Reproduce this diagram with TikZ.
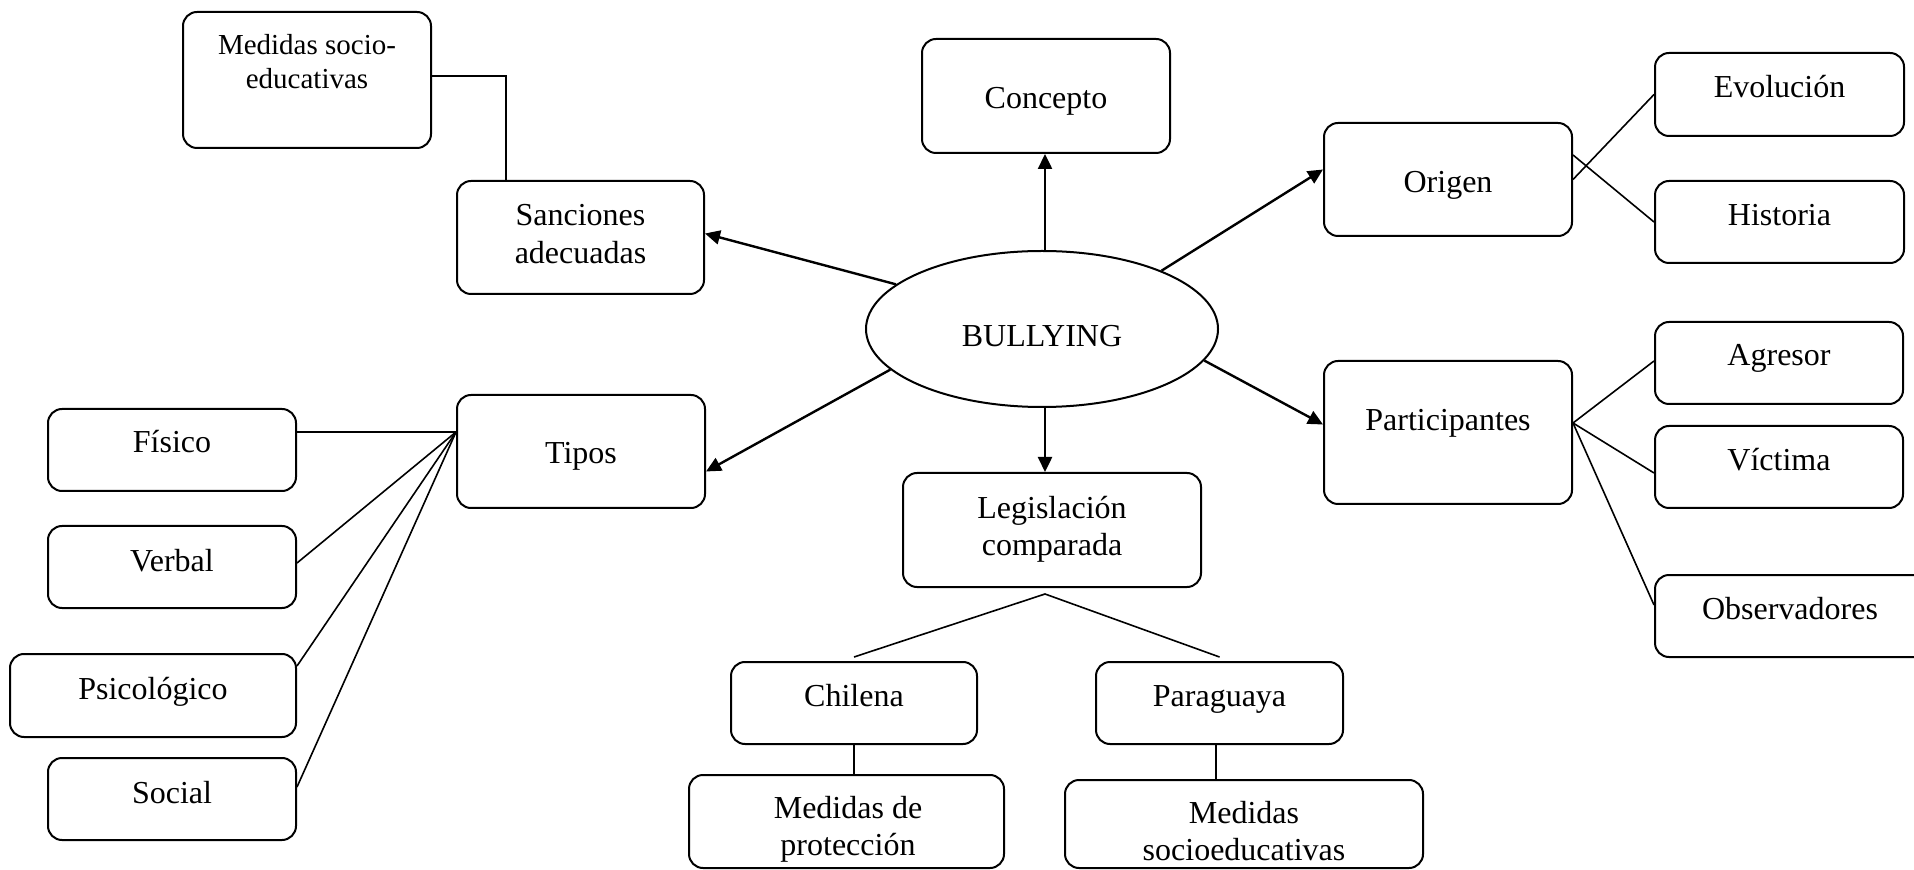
\documentclass[tikz,border=0pt]{standalone}
\usepackage{fontspec}
\setmainfont{Liberation Serif}
\usetikzlibrary{arrows.meta,shapes.geometric,calc}
\begin{document}
\begin{tikzpicture}[x=0.5pt,y=-0.5pt,
  box/.style={draw, line width=1pt, rounded corners=7pt, inner sep=0pt},
  txt/.style={anchor=base, inner sep=0pt, font=\fontsize{16}{19}\selectfont},
  stxt/.style={anchor=base, inner sep=0pt, font=\fontsize{14.5}{17}\selectfont},
  link/.style={line width=0.8pt},
  arr/.style={line width=1.2pt, -{Triangle[length=7.5pt,width=7pt]}}]
\useasboundingbox (0,0) rectangle (1914,870);
\clip (0,0) rectangle (1914,870);

% central ellipse
\node[draw, ellipse, line width=1pt, minimum width=176pt, minimum height=78pt, inner sep=0pt] (bul) at (1042,329) {};
\node[txt] (bul-t) at (1042,347) {BULLYING};

% boxes
\node[box, minimum width=124pt, minimum height=68pt] (med1) at (307,80) {};
\node[box, minimum width=123.5pt, minimum height=56.5pt] (sanc) at (580.5,237.5) {};
\node[box, minimum width=124pt, minimum height=57pt] (conc) at (1046,96) {};
\node[box, minimum width=124pt, minimum height=56.5pt] (orig) at (1448,179.5) {};
\node[box, minimum width=124.5pt, minimum height=41.5pt] (evol) at (1779.5,94.5) {};
\node[box, minimum width=124.5pt, minimum height=41pt] (hist) at (1779.5,222) {};
\node[box, minimum width=124pt, minimum height=71.5pt] (part) at (1448,432.5) {};
\node[box, minimum width=124pt, minimum height=41pt] (agre) at (1779,363) {};
\node[box, minimum width=124pt, minimum height=41pt] (vict) at (1779,467) {};
\node[box, minimum width=140pt, minimum height=41pt] (obse) at (1795,616) {};
\node[box, minimum width=124pt, minimum height=56.5pt] (tipo) at (581,451.5) {};
\node[box, minimum width=124pt, minimum height=41pt] (fisi) at (172,450) {};
\node[box, minimum width=124pt, minimum height=41pt] (verb) at (172,567) {};
\node[box, minimum width=143pt, minimum height=41.5pt] (psic) at (153,695.5) {};
\node[box, minimum width=124pt, minimum height=41pt] (soci) at (172,799) {};
\node[box, minimum width=149pt, minimum height=57pt] (legi) at (1052,530) {};
\node[box, minimum width=123pt, minimum height=41pt] (chil) at (854,703) {};
\node[box, minimum width=123.5pt, minimum height=41pt] (para) at (1219.5,703) {};
\node[box, minimum width=157.5pt, minimum height=46.5pt] (medp) at (846.5,821.5) {};
\node[box, minimum width=179pt, minimum height=44pt] (meds) at (1244,824) {};

% texts
\node[stxt] (med1-t1) at (307,55) {Medidas socio-};
\node[stxt] (med1-t2) at (307,89) {educativas};
\node[txt] (sanc-t1) at (580.5,226) {Sanciones};
\node[txt] (sanc-t2) at (580.5,264) {adecuadas};
\node[txt] (conc-t) at (1046,109) {Concepto};
\node[txt] (orig-t) at (1448,193) {Origen};
\node[txt] (evol-t) at (1779.5,98) {Evolución};
\node[txt] (hist-t) at (1779.5,226) {Historia};
\node[txt] (part-t) at (1448,431) {Participantes};
\node[txt] (agre-t) at (1779,366) {Agresor};
\node[txt] (vict-t) at (1779,471) {Víctima};
\node[txt] (obse-t) at (1790,619) {Observadores};
\node[txt] (tipo-t) at (581,464) {Tipos};
\node[txt] (fisi-t) at (172,453) {Físico};
\node[txt] (verb-t) at (172,571) {Verbal};
\node[txt] (psic-t) at (153,699) {Psicológico};
\node[txt] (soci-t) at (172,803) {Social};
\node[txt] (legi-t1) at (1052,519) {Legislación};
\node[txt] (legi-t2) at (1052,556) {comparada};
\node[txt] (chil-t) at (854,706) {Chilena};
\node[txt] (para-t) at (1219.5,706) {Paraguaya};
\node[txt] (medp-t1) at (848,818) {Medidas de};
\node[txt] (medp-t2) at (848,855) {protección};
\node[txt] (meds-t1) at (1244,823) {Medidas};
\node[txt] (meds-t2) at (1244,860) {socioeducativas};

% arrows from the centre
\draw[arr] ([xshift=1.5pt]bul.north) -- ([xshift=1.5pt]bul.north |- conc.south);
\draw[arr] (bul.26) -- ([yshift=5pt]orig.west);
\draw[arr] (bul.349) -- ([yshift=4pt]part.west);
\draw[arr] ([xshift=1.5pt]bul.south) -- ([xshift=1.5pt]bul.south |- legi.north);
\draw[arr] (bul.195) -- ([yshift=-10pt]tipo.east);
\draw[arr] (bul.163) -- ([yshift=2pt]sanc.east);

% plain links
\draw[link] ([yshift=2pt]med1.east) -| ($(sanc.north west)!0.2!(sanc.north east)$);

\draw[link] (orig.east) -- (evol.west);
\draw[link] ([yshift=12.25pt]orig.east) -- (hist.west);

\draw[link] ([yshift=4.75pt]part.east) -- ([yshift=1pt]agre.west);
\draw[link] ([yshift=4.75pt]part.east) -- ([yshift=-3pt]vict.west);
\draw[link] ([yshift=4.75pt]part.east) -- ([yshift=5.5pt]obse.west);

\draw[link] ([yshift=9.75pt]tipo.west) -- ([yshift=9pt]fisi.east);
\draw[link] ([yshift=9.75pt]tipo.west) -- ([yshift=2pt]verb.east);
\draw[link] ([yshift=9.75pt]tipo.west) -- ([yshift=14.75pt]psic.east);
\draw[link] ([yshift=9.75pt]tipo.west) -- ([yshift=6pt]soci.east);

\coordinate (apex) at (1045,594);
\draw[link] ([yshift=2pt]chil.north) -- (apex) -- ([yshift=2pt]para.north);
\draw[link] (chil.south) -- (chil.south |- medp.north);
\draw[link] ([xshift=-1.75pt]para.south) -- ([xshift=-1.75pt]para.south |- meds.north);
\end{tikzpicture}
\end{document}
